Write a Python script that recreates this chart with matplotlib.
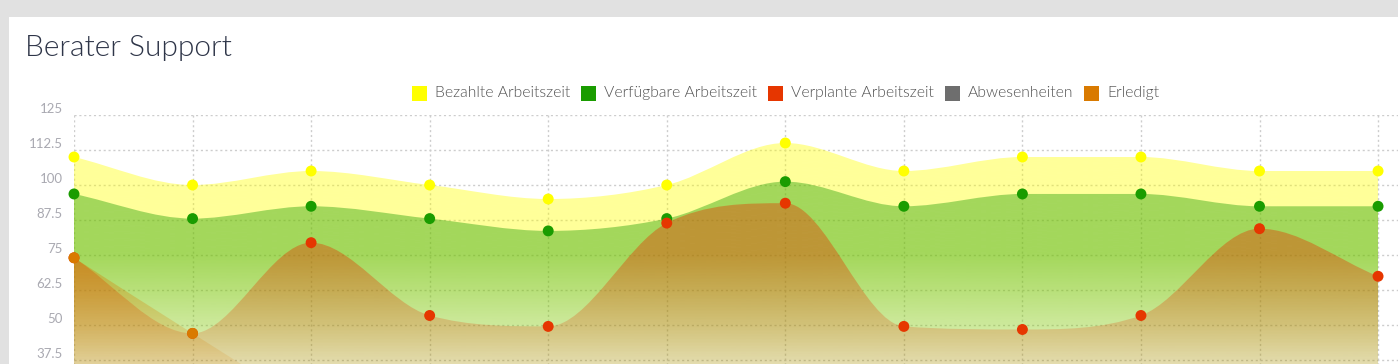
import matplotlib
matplotlib.use("Agg")
import matplotlib.pyplot as plt
import numpy as np
from matplotlib.colors import to_rgb
from matplotlib.patches import PathPatch, Rectangle
from matplotlib.path import Path
from matplotlib.transforms import ScaledTranslation

W, H = 1398, 364

WEEKS = list(range(12))
SERIES_NAMES = [
    "Bezahlte Arbeitszeit",
    "Verfügbare Arbeitszeit",
    "Verplante Arbeitszeit",
    "Abwesenheiten",
    "Erledigt",
]
PAID = [110, 100, 105, 100, 95, 100, 115, 105, 110, 110, 105, 105]
AVAILABLE = [96.8, 88, 92.4, 88, 83.6, 88, 101.2, 92.4, 96.8, 96.8, 92.4, 92.4]
PLANNED = [74, 47, 79.4, 53.4, 49.5, 86.4, 93.5, 49.5, 48.4, 53.4, 84.4, 67.4]
ABSENT = [0, 0, 0, 0, 0, 0, 0, 0, 0, 0, 0, 0]
DONE = [74, 47, 21, 0, 0, 0, 0, 0, 0, 0, 0, 0]
Y_TICKS = [37.5, 50, 62.5, 75, 87.5, 100, 112.5, 125]

COLORS = ["#ffff00", "#1a9c00", "#e63600", "#6e6e6e", "#d97a00"]

# pixel geometry of the plot area
X0, Y_TOP = 74, 115
PX_PER_STEP = 118.55
PX_PER_UNIT = 2.8
Y_MAX = 125


def monotone_area(values):
    """Monotone cubic curve through the points (Chart.js 'monotone'), closed down to zero."""
    y = np.asarray(values, dtype=float)
    n = len(y)
    delta = np.diff(y)
    m = np.zeros(n)
    m[0] = delta[0]
    m[-1] = delta[-1]
    for i in range(1, n - 1):
        if np.sign(delta[i - 1]) != np.sign(delta[i]) or delta[i - 1] == 0 or delta[i] == 0:
            m[i] = 0
        else:
            m[i] = (delta[i - 1] + delta[i]) / 2
    for i in range(n - 1):
        if abs(delta[i]) < 1e-9:
            m[i] = m[i + 1] = 0
            continue
        a = m[i] / delta[i]
        b = m[i + 1] / delta[i]
        sq = a * a + b * b
        if sq > 9:
            tau = 3 / np.sqrt(sq)
            m[i] = a * tau * delta[i]
            m[i + 1] = b * tau * delta[i]
    verts = [[0, y[0]]]
    codes = [Path.MOVETO]
    for i in range(n - 1):
        verts += [[i + 1 / 3, y[i] + m[i] / 3], [i + 2 / 3, y[i + 1] - m[i + 1] / 3], [i + 1, y[i + 1]]]
        codes += [Path.CURVE4] * 3
    verts = np.array(verts)
    verts[:, 1] = np.clip(verts[:, 1], 0, Y_MAX)
    verts = np.vstack([verts, [[n - 1, 0], [0, 0], [0, 0]]])
    codes += [Path.LINETO, Path.LINETO, Path.CLOSEPOLY]
    return Path(verts, codes)


def gradient(color):
    v = np.linspace(0, Y_MAX, 600)
    alpha = np.clip(0.4 - 0.27 * (75 - v) / 37.5, 0, 0.4)
    img = np.zeros((len(v), 1, 4))
    img[:, 0, :3] = to_rgb(color)
    img[:, 0, 3] = alpha
    return img


fig = plt.figure(figsize=(W / 100, H / 100), dpi=100)
fig.patch.set_facecolor("#e1e1e1")
fig.patches.append(Rectangle((9 / W, 0), 1, 1 - 17 / H, transform=fig.transFigure,
                             facecolor="white", edgecolor="none", zorder=-10))

bottom_px = Y_TOP + Y_MAX * PX_PER_UNIT
ax = fig.add_axes([X0 / W, 1 - bottom_px / H, (W - X0) / W, (bottom_px - Y_TOP) / H])
ax.set_facecolor("none")
for s in ax.spines.values():
    s.set_visible(False)

ax.set_xticks(WEEKS)
ax.set_yticks(Y_TICKS)
ax.set_yticklabels([f"{t:g}" for t in Y_TICKS])
ax.tick_params(axis="x", length=0, labelbottom=False)
ax.tick_params(axis="y", length=0, pad=8, labelsize=9.5, labelcolor="#a9a9b1")
for lab in ax.get_yticklabels():
    lab.set_fontfamily("Lato")
    lab.set_fontweight(400)
    lab.set_transform(lab.get_transform() + ScaledTranslation(0, 0.07, fig.dpi_scale_trans))
ax.grid(True, color="#cdcdcd", linestyle=(0, (1.5, 2)), linewidth=1)
ax.set_axisbelow(True)

series = [PAID, AVAILABLE, PLANNED, ABSENT, DONE]
for k, (vals, color) in enumerate(zip(series, COLORS)):
    patch = PathPatch(monotone_area(vals), facecolor="none", edgecolor="none", transform=ax.transData)
    ax.add_patch(patch)
    im = ax.imshow(gradient(color), extent=(0, len(vals) - 1, 0, Y_MAX), origin="lower",
                   aspect="auto", interpolation="bilinear", zorder=2 + k * 2)
    im.set_clip_path(patch)
    ax.scatter(WEEKS, vals, s=62, color=color, edgecolors="none", zorder=3 + k * 2, clip_on=False)
ax.set_xlim(0, (W - X0) / PX_PER_STEP)
ax.set_ylim(0, Y_MAX)

fig.text(25 / W, 1 - 56 / H, "Berater Support", fontsize=21.5, fontfamily="Lato",
         fontweight=300, color="#2e3548", va="baseline", ha="left")

# legend: square, gap, label, gap ... laid out in a centred row
box, gap_in, gap_out = 15, 8, 11
renderer = fig.canvas.get_renderer()
labels = [fig.text(0, 1 - 93 / H, name, fontsize=11.3, fontfamily="Lato", fontweight=300,
                   color="#505050", va="center", ha="left") for name in SERIES_NAMES]
widths = [t.get_window_extent(renderer).width for t in labels]
total = len(labels) * (box + gap_in) + sum(widths) + (len(labels) - 1) * gap_out
x = 785.5 - total / 2
for t, w, color in zip(labels, widths, COLORS):
    fig.patches.append(Rectangle((x / W, 1 - 100.5 / H), box / W, box / H, transform=fig.transFigure,
                                 facecolor=color, edgecolor="none"))
    t.set_x((x + box + gap_in) / W)
    x += box + gap_in + w + gap_out

fig.savefig("out.png", dpi=100)
